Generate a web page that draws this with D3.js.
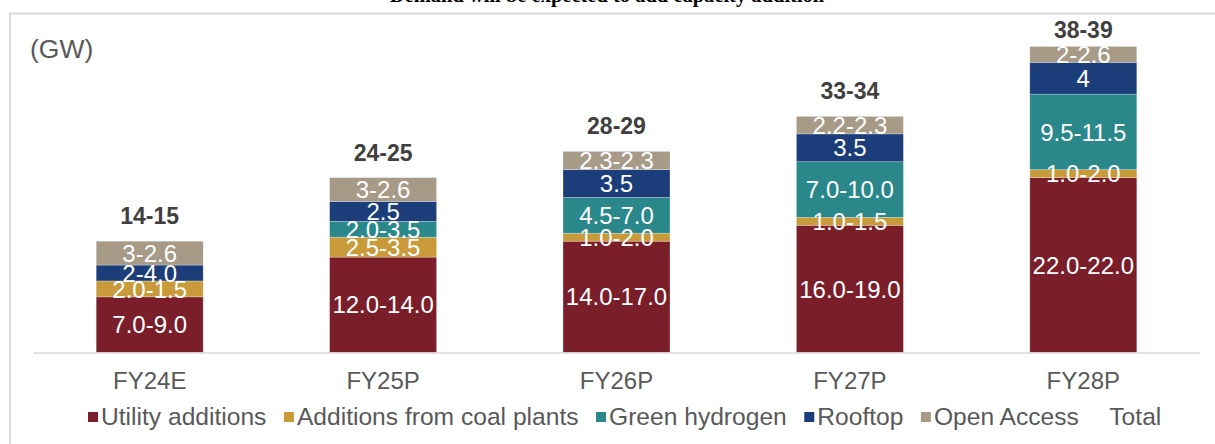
<!DOCTYPE html>
<html>
<head>
<meta charset="utf-8">
<script src="https://cdn.jsdelivr.net/npm/d3@7"></script>
<style>
  body { margin: 0; background: #fff; }
  svg { display: block; font-family: "Liberation Sans", Arial, sans-serif; }
</style>
</head>
<body>
<div id="chart"></div>
<script>
// Data
var categories = ["FY24E", "FY25P", "FY26P", "FY27P", "FY28P"];
var seriesNames = ["Utility additions", "Additions from coal plants", "Green hydrogen", "Rooftop", "Open Access"];
var seriesColors = ["#7a1e2a", "#c99a3a", "#2a878a", "#1b3d79", "#a79a87"];

// bar heights (GW) per series
var utility = [7.0, 12.0, 14.0, 16.0, 22.0];
var coal = [2.0, 2.5, 1.0, 1.0, 1.0];
var hydrogen = [0, 2.0, 4.5, 7.0, 9.5];
var rooftop = [2.0, 2.5, 3.5, 3.5, 4.0];
var openAccess = [3.0, 3.0, 2.3, 2.2, 2.0];

// data labels as printed on the segments
var utilityLabels = ["7.0-9.0", "12.0-14.0", "14.0-17.0", "16.0-19.0", "22.0-22.0"];
var coalLabels = ["2.0-1.5", "2.5-3.5", "1.0-2.0", "1.0-1.5", "1.0-2.0"];
var hydrogenLabels = ["", "2.0-3.5", "4.5-7.0", "7.0-10.0", "9.5-11.5"];
var rooftopLabels = ["2-4.0", "2.5", "3.5", "3.5", "4"];
var openAccessLabels = ["3-2.6", "3-2.6", "2.3-2.3", "2.2-2.3", "2-2.6"];
var totalLabels = ["14-15", "24-25", "28-29", "33-34", "38-39"];

var svgWidth = 1215;
var svgHeight = 444;

var svg = d3.select("#chart")
  .append("svg")
  .attr("width", svgWidth)
  .attr("height", svgHeight);

// title, mostly cut off at the top of the picture
svg.append("text")
  .attr("x", 607)
  .attr("y", 2)
  .attr("text-anchor", "middle")
  .style("font-family", "'Liberation Serif', 'Times New Roman', serif")
  .style("font-weight", "bold")
  .style("font-size", "20.5px")
  .attr("fill", "#000")
  .text("Demand will be expected to add capacity addition");

// chart frame
svg.append("rect")
  .attr("x", 10)
  .attr("y", 13.5)
  .attr("width", 1220)
  .attr("height", 450)
  .attr("fill", "none")
  .attr("stroke", "#d9d9d9")
  .attr("stroke-width", 2);

// build stacked table
var seriesValues = [utility, coal, hydrogen, rooftop, openAccess];
var seriesLabels = [utilityLabels, coalLabels, hydrogenLabels, rooftopLabels, openAccessLabels];
var table = categories.map(function(c, i) {
  var row = { cat: c };
  seriesNames.forEach(function(s, j) { row[s] = seriesValues[j][i]; });
  return row;
});
var stacked = d3.stack().keys(seriesNames)(table);

// scales
var xScale = d3.scaleBand()
  .domain(categories)
  .range([33, 1200])
  .paddingInner(0.5416)
  .paddingOuter(0.2708);

var yScale = d3.scaleLinear()
  .domain([0, 40])
  .range([352.5, 34.5]);

// bars
var layers = svg.append("g").selectAll("g")
  .data(stacked)
  .join("g")
  .attr("fill", function(d, i) { return seriesColors[i]; });

layers.selectAll("rect")
  .data(function(d) { return d; })
  .join("rect")
  .attr("x", function(d) { return xScale(d.data.cat); })
  .attr("y", function(d) { return yScale(d[1]); })
  .attr("width", xScale.bandwidth())
  .attr("height", function(d) { return yScale(d[0]) - yScale(d[1]); })
  .attr("stroke", "#ffffff")
  .attr("stroke-opacity", 0.35)
  .attr("stroke-width", 0.75);

// segment labels
stacked.forEach(function(layer, j) {
  svg.append("g").selectAll("text")
    .data(layer)
    .join("text")
    .attr("x", function(d) { return xScale(d.data.cat) + xScale.bandwidth() / 2; })
    .attr("y", function(d) { return (yScale(d[0]) + yScale(d[1])) / 2; })
    .attr("dy", "0.36em")
    .attr("text-anchor", "middle")
    .attr("fill", "#ffffff")
    .style("font-size", "24px")
    .text(function(d, i) { return seriesLabels[j][i]; });
});

// axis baseline
svg.append("line")
  .attr("x1", 33)
  .attr("x2", 1200)
  .attr("y1", yScale(0) + 0.5)
  .attr("y2", yScale(0) + 0.5)
  .attr("stroke", "#d9d9d9")
  .attr("stroke-width", 1.5);

// category labels
var bottomAxis = d3.axisBottom(xScale).tickSize(0).tickPadding(0);
var axisG = svg.append("g")
  .attr("transform", "translate(0, 372)")
  .call(bottomAxis);
axisG.select(".domain").remove();
axisG.selectAll("text")
  .attr("fill", "#595959")
  .style("font-family", "'Liberation Sans', Arial, sans-serif")
  .style("font-size", "24px");

// totals above the bars
var topLayer = stacked[stacked.length - 1];
svg.append("g").selectAll("text")
  .data(topLayer)
  .join("text")
  .attr("x", function(d) { return xScale(d.data.cat) + xScale.bandwidth() / 2; })
  .attr("y", function(d) { return Math.max(yScale(d[1]) - 17, 38); })
  .attr("text-anchor", "middle")
  .attr("fill", "#404040")
  .style("font-weight", "bold")
  .style("font-size", "23px")
  .text(function(d, i) { return totalLabels[i]; });

// unit
svg.append("text")
  .attr("x", 30)
  .attr("y", 58)
  .attr("fill", "#595959")
  .style("font-size", "26.5px")
  .text("(GW)");

// legend
var legendItems = seriesNames.map(function(s, i) { return { name: s, color: seriesColors[i] }; });
legendItems.push({ name: "Total", color: "none" });
var legend = svg.append("g");
var lx = 88;
legendItems.forEach(function(item) {
  legend.append("rect")
    .attr("x", lx)
    .attr("y", 412)
    .attr("width", 10)
    .attr("height", 10)
    .attr("fill", item.color);
  var t = legend.append("text")
    .attr("x", lx + 13)
    .attr("y", 425)
    .attr("fill", "#595959")
    .style("font-size", "24.6px")
    .text(item.name);
  lx += 13 + t.node().getComputedTextLength() + 17.5;
});
</script>
</body>
</html>
